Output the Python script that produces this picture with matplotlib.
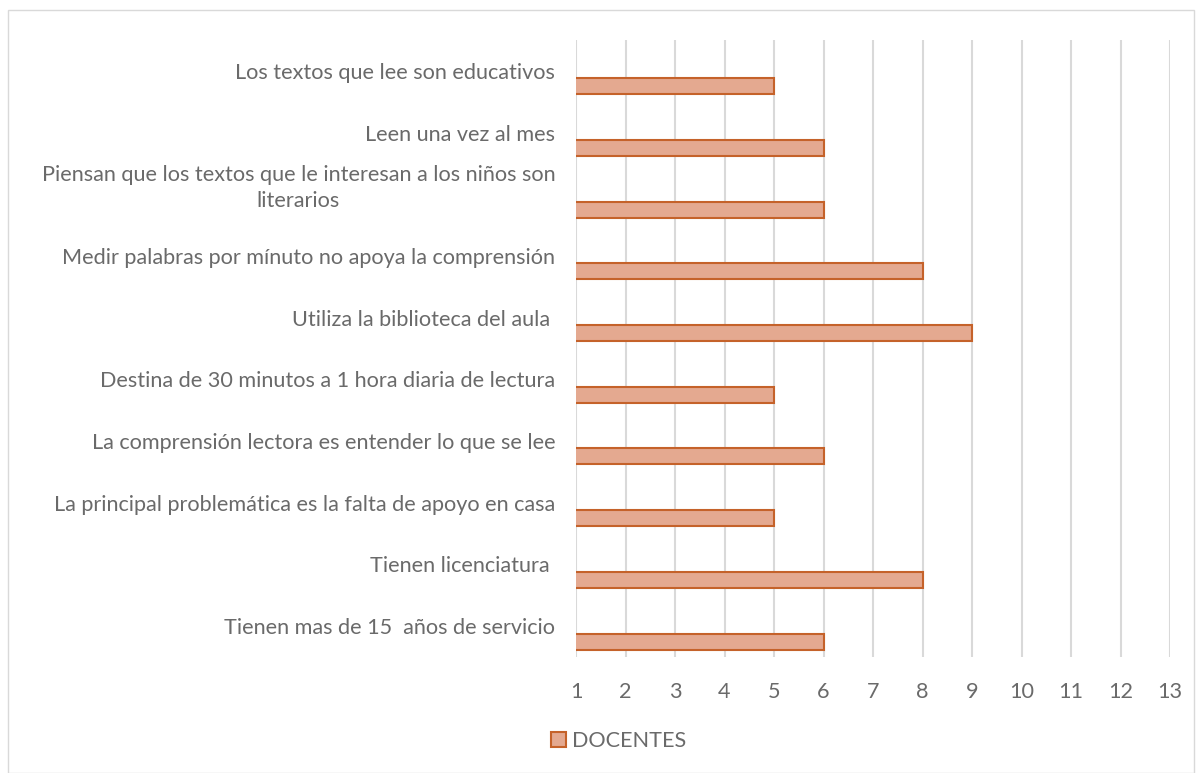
import matplotlib
matplotlib.use("Agg")
import matplotlib.pyplot as plt
from matplotlib.patches import Rectangle
from matplotlib.transforms import ScaledTranslation

categories = [
    "Los textos que lee son educativos",
    "Leen una vez al mes",
    "Piensan que los textos que le interesan a los niños son\nliterarios",
    "Medir palabras por mínuto no apoya la comprensión",
    "Utiliza la biblioteca del aula ",
    "Destina de 30 minutos a 1 hora diaria de lectura",
    "La comprensión lectora es entender lo que se lee",
    "La principal problemática es la falta de apoyo en casa",
    "Tienen licenciatura ",
    "Tienen mas de 15  años de servicio",
]
docentes = [5, 6, 6, 8, 9, 5, 6, 5, 8, 6]
xticks = list(range(1, 14))
series_name = "DOCENTES"

plt.rcParams['font.family'] = ['Lato', 'DejaVu Sans']
gray = "#6a6a6a"
fs = 15.6

fig = plt.figure(figsize=(11.96, 7.73), dpi=100)
ax = fig.add_axes([576/1196, 1-657/773, (1170-576)/1196, (657-40)/773])

pos = list(range(len(categories)))
barpos = [p + 0.25 for p in pos]
ax.barh(barpos, docentes, height=0.26, color="#E4A990", edgecolor="#C5622A",
        linewidth=1.5, zorder=3, label=series_name)

ax.set_xlim(1, 13)
ax.set_ylim(len(categories) - 0.5, -0.5)
ax.set_xticks(xticks)
ax.set_xticklabels([str(t) for t in xticks])
ax.set_yticks(pos)
ax.set_yticklabels(categories)

ax.tick_params(axis='y', length=0, pad=15, labelsize=fs, labelcolor=gray)
ax.tick_params(axis='x', length=0, pad=18, labelsize=fs, labelcolor=gray)
for lbl in ax.get_yticklabels():
    lbl.set_multialignment('center')
    lbl.set_linespacing(1.35)
    if "\n" in lbl.get_text():
        lbl.set_transform(lbl.get_transform() + ScaledTranslation(0, 8/72, fig.dpi_scale_trans))
ax.grid(axis='x', color="#D9D9D9", linewidth=1.5, zorder=0)
ax.set_axisbelow(True)
for s in ax.spines.values():
    s.set_visible(False)

leg = fig.legend(loc='center left', bbox_to_anchor=(531/1196, 1-741/773), frameon=False,
                 fontsize=fs, handlelength=0.7, handleheight=0.7, handletextpad=0.3)
for t in leg.get_texts():
    t.set_color(gray)

fig.patches.append(Rectangle((8/1196, 0.0), (1194-8)/1196, 1-10/773, transform=fig.transFigure,
                             fill=False, edgecolor="#D9D9D9", linewidth=1.0))

fig.savefig("out.png", dpi=100)
